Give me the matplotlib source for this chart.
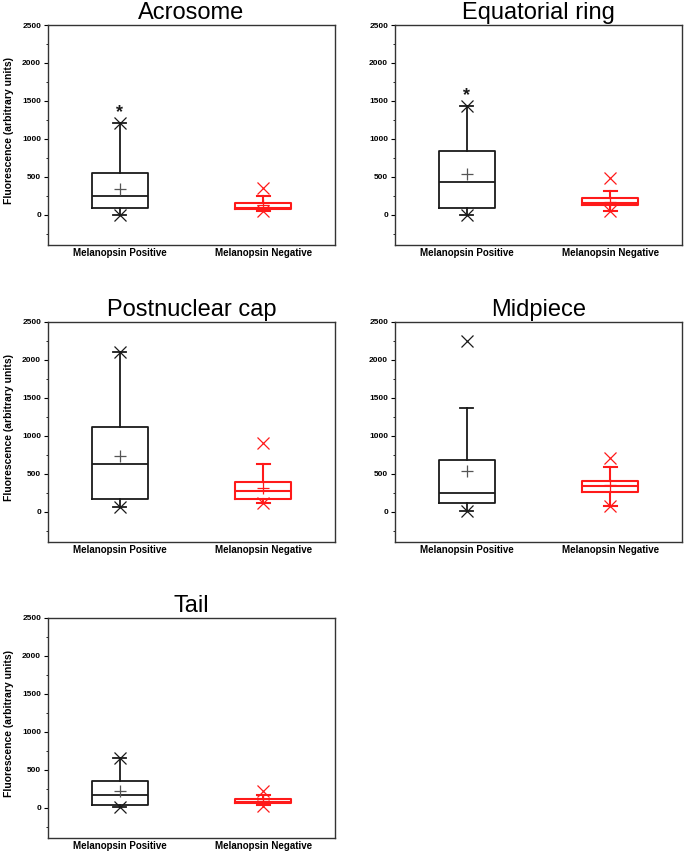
import matplotlib
matplotlib.use("Agg")
import matplotlib.pyplot as plt
from matplotlib.ticker import MultipleLocator

plt.rcParams['font.family'] = ['Liberation Sans', 'DejaVu Sans']

# data
panels = ["Acrosome", "Equatorial ring", "Postnuclear cap", "Midpiece", "Tail"]
groups = ["Melanopsin Positive", "Melanopsin Negative"]

# Melanopsin positive
pos_q1 = [83, 92, 168, 110, 31]
pos_med = [250, 435, 632, 252, 171]
pos_q3 = [545, 844, 1113, 685, 347]
pos_mean = [338, 540, 733, 539, 215]
pos_wlo = [0, 0, 57, 10, 9]
pos_whi = [1204, 1432, 2102, 1365, 660]
pos_x = [[0, 1204], [0, 1432], [57, 2102], [5, 2248], [9, 660]]

# Melanopsin negative
neg_q1 = [75, 128, 168, 257, 57]
neg_med = [92, 158, 278, 336, 79]
neg_q3 = [150, 224, 388, 408, 110]
neg_mean = [128, 171, 309, 354, 92]
neg_wlo = [50, 49, 115, 80, 30]
neg_whi = [250, 312, 627, 587, 167]
neg_x = [[49, 348], [49, 480], [112, 905], [80, 711], [20, 215]]

# significance asterisks above the positive box
star_y = [1423, 1652, None, None, None]

positions = [
    [48, 25], [395, 25],
    [48, 322], [395, 322],
    [48, 618],
]

W, H = 685, 852
fig = plt.figure(figsize=(W / 100, H / 100), dpi=100)

black = '#1a1a1a'
red = '#ff1a1a'

for i, name in enumerate(panels):
    left, top = positions[i]
    ax = fig.add_axes([left / W, 1 - (top + 220) / H, 287 / W, 220 / H])

    stats = [
        dict(q1=pos_q1[i], med=pos_med[i], q3=pos_q3[i], mean=pos_mean[i],
             whislo=pos_wlo[i], whishi=pos_whi[i], fliers=[]),
        dict(q1=neg_q1[i], med=neg_med[i], q3=neg_q3[i], mean=neg_mean[i],
             whislo=neg_wlo[i], whishi=neg_whi[i], fliers=[]),
    ]
    for j, (st, col) in enumerate(zip(stats, [black, red])):
        mcol = '#555555' if col == black else col
        lw = 1.3 if j == 0 else 1.5
        ax.bxp([st], positions=[j + 1], widths=0.39, capwidths=0.09,
               showmeans=True, showfliers=False,
               boxprops=dict(color=col, linewidth=lw),
               medianprops=dict(color=col, linewidth=lw),
               whiskerprops=dict(color=col, linewidth=lw),
               capprops=dict(color=col, linewidth=lw),
               meanprops=dict(marker='+', markersize=8, markeredgecolor=mcol,
                              markeredgewidth=0.9))
        xs = pos_x[i] if j == 0 else neg_x[i]
        ax.plot([j + 1] * len(xs), xs, linestyle='none', marker='x',
                markersize=9 if j == 0 else 8, markeredgewidth=0.9, color=col)

    if star_y[i] is not None:
        ax.annotate('*', (1, star_y[i]), xytext=(0, -7.5),
                    textcoords='offset points', ha='center', va='baseline',
                    fontsize=13, fontweight='bold', color=black)

    ax.set_xlim(0.5, 2.5)
    ax.set_ylim(-400, 2500)
    ax.set_xticks([1, 2])
    ax.set_xticklabels(groups, fontsize=7, fontweight='bold')
    ax.tick_params(axis='x', length=0, pad=2.5)
    ax.yaxis.set_major_locator(MultipleLocator(500))
    ax.yaxis.set_minor_locator(MultipleLocator(250))
    ax.set_yticks(range(0, 2501, 500))
    ax.tick_params(axis='y', which='major', length=3, width=0.8,
                   labelsize=6, direction='out', pad=2)
    ax.tick_params(axis='y', which='minor', length=1.8, width=0.6,
                   direction='out')
    for lab in ax.get_yticklabels():
        lab.set_fontweight('bold')
    for sp in ax.spines.values():
        sp.set_color('#333333')
        sp.set_linewidth(1.0)
    ax.set_title(name, fontsize=17, pad=4)
    if i % 2 == 0:
        ax.set_ylabel('Fluorescence (arbitrary units)', fontsize=7.5,
                      fontweight='bold')
        ax.yaxis.set_label_coords(-0.12, 0.52)

fig.savefig('out.png', dpi=100)
